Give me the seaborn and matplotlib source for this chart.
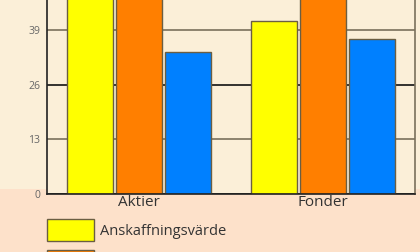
import matplotlib
matplotlib.use("Agg")
import matplotlib.pyplot as plt
import seaborn as sns
import pandas as pd
from matplotlib.patches import Rectangle

categories = ["Aktier", "Fonder"]
series = ["Anskaffningsvärde", "Marknadsvärde", "Avkastning"]
anskaffning = [50.0, 41.1]
marknad = [56.0, 52.0]
avkastning = [33.7, 36.8]
yticks = [0, 13, 26, 39]

rows = []
for i, c in enumerate(categories):
    rows.append((c, series[0], anskaffning[i]))
    rows.append((c, series[1], marknad[i]))
    rows.append((c, series[2], avkastning[i]))
df = pd.DataFrame(rows, columns=["kategori", "serie", "varde"])

sns.set_theme(style="white")
plt.rcParams['font.family'] = ['Open Sans', 'DejaVu Sans']

cream = "#FBEFD8"
peach = "#FDE1CA"
fig = plt.figure(figsize=(4.2, 2.52), dpi=100, facecolor=peach)
fig.patches.append(Rectangle((0, 0.25), 1, 0.75, transform=fig.transFigure,
                             facecolor=cream, edgecolor="none", zorder=-10))
ax = fig.add_axes([47/420, 58/252, 368/420, 218.8/252])
ax.set_facecolor(cream)

palette = {series[0]: "#FFFF00", series[1]: "#FF7F00", series[2]: "#0080FF"}
sns.barplot(data=df, x="kategori", y="varde", hue="serie", hue_order=series,
            order=categories, palette=palette, width=0.8, gap=0.05, ax=ax,
            edgecolor="#6B5E42", linewidth=1.0, saturation=1, legend=True,
            errorbar=None)

ax.set_xlim(-0.5, 1.5)
ax.set_ylim(0, 52)
ax.set_yticks(yticks)
ax.set_yticklabels([str(v) for v in yticks])
ax.set_axisbelow(True)
ax.yaxis.grid(True, linewidth=1.2)
gl = ax.get_ygridlines()
gcols = ["#000000", "#7A705C", "#111111", "#7A705C"]
for g, c in zip(gl, gcols):
    g.set_color(c)
ax.xaxis.grid(False)
ax.set_xlabel("")
ax.set_ylabel("")
ax.tick_params(axis="y", length=0, pad=5, labelsize=7.5, labelcolor="#666666")
ax.tick_params(axis="x", length=0, pad=0.5, labelsize=11, labelcolor="#333333")
for s in ["left", "bottom"]:
    ax.spines[s].set_color("#222222")
    ax.spines[s].set_linewidth(1.2)
ax.spines["right"].set_color("#7A705C")
ax.spines["right"].set_linewidth(1.2)
ax.spines["top"].set_visible(False)

handles, labels = ax.get_legend_handles_labels()
ax.legend_.remove()
fig.legend(handles, labels, loc="upper left", bbox_to_anchor=(47/420, 1 - 219/252),
           frameon=False, fontsize=10.5, handlelength=3.25, handleheight=1.95,
           labelspacing=0.6, borderpad=0, borderaxespad=0, handletextpad=0.4,
           labelcolor="#333333")

fig.savefig("out.png", dpi=100, facecolor=peach)
